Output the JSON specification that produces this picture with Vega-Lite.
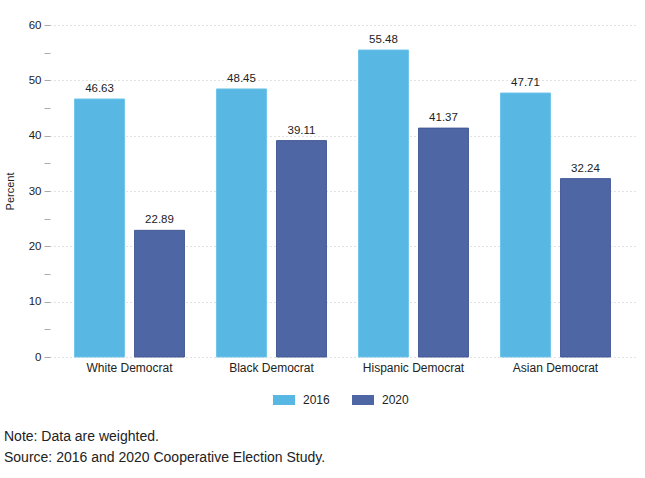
{
  "$schema": "https://vega.github.io/schema/vega-lite/v6.json",
  "width": 585,
  "height": 332,
  "autosize": {"type": "none"},
  "padding": {"left": 50, "top": 25, "right": 10, "bottom": 121},
  "background": "white",
  "config": {
    "font": "Liberation Sans",
    "view": {"stroke": null},
    "axis": {"labelFont": "Liberation Sans", "titleFont": "Liberation Sans", "labelColor": "#222", "titleColor": "#222"}
  },
  "title": {
    "text": ["Note: Data are weighted.", "Source: 2016 and 2020 Cooperative Election Study."],
    "orient": "bottom",
    "anchor": "start",
    "frame": "group",
    "dx": -46,
    "offset": 24,
    "fontSize": 14,
    "fontWeight": "normal",
    "color": "#222",
    "lineHeight": 21
  },
  "data": {
    "values": [
      {"group": "White Democrat", "year": "2016", "pct": 46.63},
      {"group": "White Democrat", "year": "2020", "pct": 22.89},
      {"group": "Black Democrat", "year": "2016", "pct": 48.45},
      {"group": "Black Democrat", "year": "2020", "pct": 39.11},
      {"group": "Hispanic Democrat", "year": "2016", "pct": 55.48},
      {"group": "Hispanic Democrat", "year": "2020", "pct": 41.37},
      {"group": "Asian Democrat", "year": "2016", "pct": 47.71},
      {"group": "Asian Democrat", "year": "2020", "pct": 32.24}
    ]
  },
  "encoding": {
    "x": {
      "field": "group",
      "type": "nominal",
      "sort": ["White Democrat", "Black Democrat", "Hispanic Democrat", "Asian Democrat"],
      "scale": {"paddingInner": 0, "paddingOuter": 0.06},
      "axis": {"title": null, "domain": false, "ticks": false, "labelAngle": 0, "labelFontSize": 12, "labelPadding": 5}
    },
    "xOffset": {
      "field": "year",
      "type": "nominal",
      "scale": {"paddingInner": 0.1667, "paddingOuter": 0.267}
    },
    "y": {
      "field": "pct",
      "type": "quantitative",
      "scale": {"domain": [0, 60], "nice": false}
    }
  },
  "resolve": {"axis": {"y": "independent"}},
  "layer": [
    {
      "mark": {"type": "bar", "strokeWidth": 1, "strokeOpacity": 0.9},
      "encoding": {
        "y": {
          "field": "pct",
          "type": "quantitative",
          "axis": {
            "orient": "left",
            "title": "Percent",
            "titleFontSize": 11,
            "titleFontWeight": "normal",
            "titlePadding": 13,
            "values": [0, 10, 20, 30, 40, 50, 60],
            "domain": false,
            "tickSize": 6,
            "tickColor": "#aaa",
            "labelFontSize": 11.5,
            "labelPadding": 3,
            "grid": true,
            "gridColor": "#c4c4c4",
            "gridDash": [1, 3],
            "gridWidth": 1
          }
        },
        "color": {
          "field": "year",
          "type": "nominal",
          "scale": {"range": ["#59b8e3", "#4f66a4"]},
          "legend": {
            "title": null,
            "orient": "none",
            "legendX": 223,
            "legendY": 364,
            "direction": "horizontal",
            "columns": 2,
            "columnPadding": 22,
            "symbolType": "M-1,-0.4545 h2 v0.909 h-2 z",
            "symbolSize": 484,
            "symbolStrokeWidth": 0,
            "symbolOpacity": 1,
            "labelFontSize": 12,
            "labelOffset": 8,
            "labelColor": "#222",
            "labelFont": "Liberation Sans"
          }
        },
        "stroke": {
          "field": "year",
          "type": "nominal",
          "scale": {"range": ["#6cc3ea", "#3f5595"]},
          "legend": null
        }
      }
    },
    {
      "mark": {"type": "text", "dy": -5, "fontSize": 11.5, "color": "#222", "baseline": "bottom"},
      "encoding": {
        "y": {
          "field": "pct",
          "type": "quantitative",
          "axis": {
            "orient": "left",
            "title": null,
            "values": [5, 15, 25, 35, 45, 55],
            "labels": false,
            "domain": false,
            "grid": false,
            "tickSize": 6,
            "tickColor": "#aaa"
          }
        },
        "text": {"field": "pct", "type": "quantitative", "format": ".2f"}
      }
    }
  ]
}
